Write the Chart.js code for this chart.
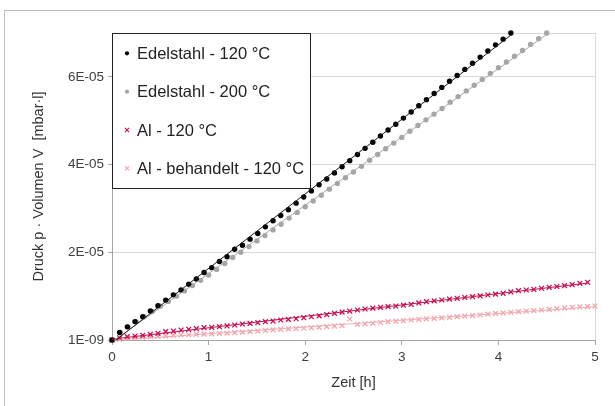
<!DOCTYPE html>
<html><head><meta charset="utf-8">
<script src="https://cdn.jsdelivr.net/npm/chart.js@4/dist/chart.umd.min.js"></script>
<style>html,body{margin:0;padding:0;background:#fff}canvas{display:block}</style>
</head><body>
<canvas id="c" width="615" height="406"></canvas>
<script>
// ---- data (time in h, values in units of 1E-05 mbar·l) ----
const seriesNames = ['Edelstahl - 120 °C', 'Edelstahl - 200 °C', 'Al - 120 °C', 'Al - behandelt - 120 °C'];
const zeitA = [0,0.079,0.159,0.238,0.318,0.397,0.476,0.556,0.635,0.715,0.794,0.873,0.953,1.032,1.112,1.191,1.270,1.350,1.429,1.509,1.588,1.667,1.747,1.826,1.906,1.985,2.064,2.144,2.223,2.303,2.382,2.461,2.541,2.620,2.700,2.779,2.858,2.938,3.017,3.097,3.176,3.255,3.335,3.414,3.494,3.573,3.652,3.732,3.811,3.891,3.970,4.049,4.129,4.208,4.288,4.367,4.446,4.526,4.605,4.685,4.764,4.843,4.923,5.0];
const zeitB = [0,0.083,0.167,0.25,0.333,0.417,0.5,0.583,0.667,0.75,0.833,0.917,1.0,1.083,1.167,1.25,1.333,1.417,1.5,1.583,1.667,1.75,1.833,1.917,2.0,2.083,2.167,2.25,2.333,2.417,2.5,2.583,2.667,2.75,2.833,2.917,3.0,3.083,3.167,3.25,3.333,3.417,3.5,3.583,3.667,3.75,3.833,3.917,4.0,4.083,4.167,4.25,4.333,4.417,4.5];
const edelstahl120 = [0,0.17,0.30,0.42,0.53,0.66,0.78,0.91,1.03,1.14,1.27,1.39,1.54,1.65,1.79,1.90,2.07,2.16,2.30,2.43,2.58,2.72,2.84,2.97,3.12,3.26,3.40,3.54,3.67,3.81,3.95,4.09,4.23,4.37,4.51,4.65,4.79,4.92,5.06,5.20,5.34,5.48,5.62,5.76,5.90,6.03,6.17,6.31,6.45,6.59,6.73,6.86,7.00];
const edelstahl200 = [0,0.17,0.30,0.42,0.53,0.65,0.77,0.88,1.00,1.12,1.24,1.36,1.48,1.61,1.745,1.88,2.00,2.13,2.26,2.38,2.51,2.64,2.78,2.91,3.04,3.17,3.30,3.44,3.57,3.70,3.83,3.96,4.10,4.23,4.36,4.49,4.62,4.76,4.89,5.02,5.15,5.28,5.42,5.55,5.68,5.81,5.94,6.08,6.21,6.34,6.47,6.60,6.74,6.87,7.00];
const al120 = [0,0.05,0.075,0.09,0.107,0.13,0.153,0.19,0.205,0.228,0.244,0.258,0.28,0.29,0.303,0.32,0.342,0.365,0.38,0.395,0.417,0.433,0.456,0.47,0.486,0.509,0.53,0.55,0.58,0.609,0.635,0.661,0.684,0.707,0.726,0.746,0.76,0.775,0.795,0.814,0.845,0.873,0.892,0.912,0.932,0.951,0.969,0.987,1.006,1.026,1.045,1.065,1.095,1.124,1.14,1.156,1.18,1.202,1.22,1.238,1.265,1.293,1.316];
const alBehandelt120 = [0,0.02,0.035,0.05,0.063,0.075,0.085,0.095,0.105,0.114,0.12,0.127,0.133,0.14,0.15,0.158,0.166,0.18,0.192,0.205,0.218,0.231,0.244,0.255,0.262,0.268,0.28,0.29,0.305,0.319,0.326,0.479,0.358,0.37,0.381,0.399,0.417,0.428,0.44,0.456,0.472,0.484,0.495,0.507,0.518,0.533,0.547,0.558,0.57,0.59,0.609,0.62,0.632,0.647,0.661,0.672,0.684,0.699,0.714,0.73,0.746,0.753,0.76,0.775];
const UNIT = 1e-5;
const xTicks = [0, 1, 2, 3, 4, 5];
const yTicks = [1e-9, 2e-5, 4e-5, 6e-5, 7e-5];
const colors = ['#000000', '#a6a6a6', '#c60f52', '#f2a3ab'];
const lineColors = ['#1a1a1a', '#a6a6a6', '#c60f52', '#f2aab3'];

// ---- build ----
function pts(times, vals) { return vals.map((v, i) => ({x: times[i], y: v * UNIT})); }
function trend(p) {
  const n = p.length; let sx=0, sy=0, sxx=0, sxy=0;
  p.forEach(q => { sx+=q.x; sy+=q.y; sxx+=q.x*q.x; sxy+=q.x*q.y; });
  const b = (n*sxy - sx*sy) / (n*sxx - sx*sx), a = (sy - b*sx) / n;
  const x0 = p[0].x, x1 = p[n-1].x;
  return [{x: x0, y: a + b*x0}, {x: x1, y: a + b*x1}];
}
const series = [pts(zeitA, edelstahl120), pts(zeitB, edelstahl200), pts(zeitA, al120), pts(zeitA, alBehandelt120)];
const styles = ['circle', 'circle', 'crossRot', 'crossRot'];
const datasets = [];
series.forEach((p, i) => {
  datasets.push({
    label: seriesNames[i], data: p, showLine: false, clip: false,
    pointStyle: styles[i], pointRadius: styles[i] === 'circle' ? 2.7 : 3.4,
    pointBorderWidth: styles[i] === 'circle' ? 0 : 1.3,
    pointBackgroundColor: colors[i], pointBorderColor: colors[i], order: 2
  });
});
series.forEach((p, i) => {
  datasets.push({
    label: 'trend' + i, data: trend(p), showLine: true, pointRadius: 0,
    borderColor: lineColors[i], borderWidth: 1, order: 1
  });
});

function fmtE(v) {
  const parts = v.toExponential(0).split('e');
  const n = parseInt(parts[1], 10);
  return parts[0] + 'E' + (n < 0 ? '-' : '+') + String(Math.abs(n)).padStart(2, '0');
}

const FONT = "'Liberation Sans', Arial, sans-serif";
const frame = {
  id: 'frame',
  beforeDraw(chart) {
    const c = chart.ctx; c.save();
    c.strokeStyle = '#bfbfbf'; c.lineWidth = 1;
    c.strokeRect(4.5, 10.5, 700, 500);
    c.restore();
  }
};
const boxLegend = {
  id: 'boxLegend',
  afterDraw(chart) {
    const c = chart.ctx; c.save();
    const L = 112.5, T = 33.5, W = 198, H = 155;
    c.fillStyle = '#fff'; c.fillRect(L, T, W, H);
    c.strokeStyle = '#222'; c.lineWidth = 1; c.strokeRect(L, T, W, H);
    c.font = '16.5px ' + FONT; c.textBaseline = 'middle'; c.textAlign = 'left';
    for (let i = 0; i < 4; i++) {
      const y = 53.3 + i * 38.35;
      c.fillStyle = colors[i]; c.strokeStyle = colors[i];
      const circ = styles[i] === 'circle';
      c.lineWidth = circ ? 0 : 1.2;
      Chart.helpers.drawPoint(c, {pointStyle: styles[i], radius: circ ? 2.1 : 2.9, borderWidth: circ ? 0 : 1.2, rotation: 0}, 127, y);
      c.fillStyle = '#222';
      c.fillText(seriesNames[i], 137, y + 1);
    }
    c.restore();
  }
};

new Chart(document.getElementById('c'), {
  type: 'scatter',
  data: {datasets},
  options: {
    responsive: false, devicePixelRatio: 1, animation: false,
    layout: {padding: {left: 0, top: 33, right: 20, bottom: 0}},
    plugins: {legend: {display: false}, tooltip: {enabled: false}},
    scales: {
      x: {
        type: 'linear', min: 0, max: 5,
        afterBuildTicks: s => { s.ticks = xTicks.map(v => ({value: v})); },
        afterFit: s => { s.height = 66; },
        ticks: {font: {family: FONT, size: 13.5}, color: '#404040', padding: 4, maxRotation: 0},
        grid: {color: c => (c.tick && c.tick.value === 5) ? '#d9d9d9' : 'rgba(0,0,0,0)', tickColor: '#a6a6a6', tickLength: 5, drawOnChartArea: true},
        border: {color: '#a6a6a6', width: 1},
        title: {display: true, text: 'Zeit [h]', font: {family: FONT, size: 14.5}, color: '#333', padding: {top: 0, bottom: 14}}
      },
      y: {
        type: 'linear', min: 1e-9, max: 7e-5,
        afterBuildTicks: s => { s.ticks = yTicks.map(v => ({value: v})); },
        afterFit: s => { s.width = 112; },
        ticks: {font: {family: FONT, size: 13.5}, color: '#404040', padding: 4,
          callback: v => v === 7e-5 ? '' : fmtE(v)},
        grid: {color: c => (c.tick && c.tick.value === 1e-9) ? 'rgba(0,0,0,0)' : '#d9d9d9',
          tickColor: c => (c.tick && c.tick.value === 7e-5) ? 'rgba(0,0,0,0)' : '#a6a6a6', tickLength: 4},
        border: {color: '#a6a6a6', width: 1},
        title: {display: true, text: 'Druck p · Volumen V  [mbar·l]', font: {family: FONT, size: 14.5}, color: '#333', padding: {top: 30, bottom: 0}}
      }
    }
  },
  plugins: [frame, boxLegend]
});
</script>
</body></html>
